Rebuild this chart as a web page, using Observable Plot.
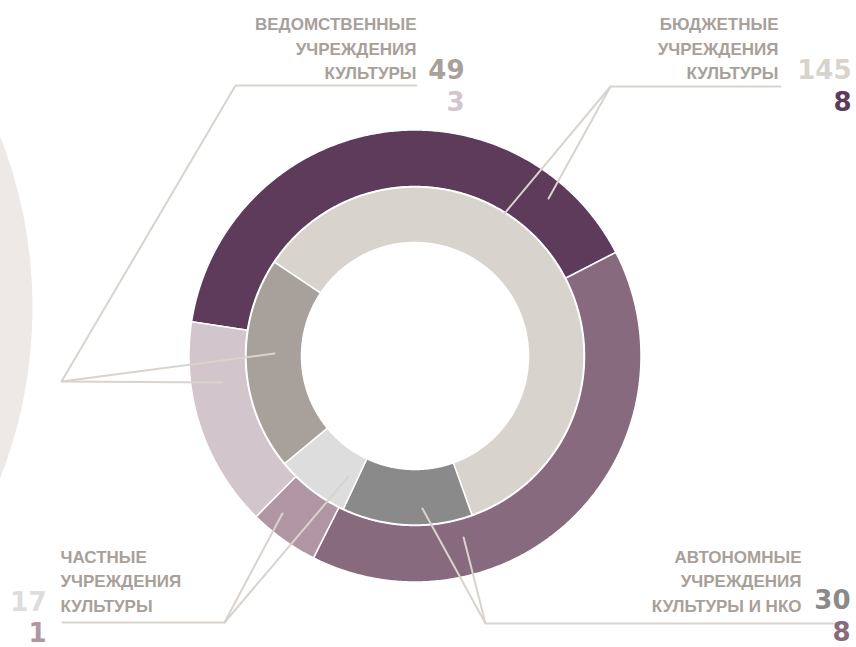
<!DOCTYPE html>
<html>
<head>
<meta charset="utf-8">
<script src="https://cdn.jsdelivr.net/npm/d3@7"></script>
<script src="https://cdn.jsdelivr.net/npm/@observablehq/plot@0.6"></script>
<style>
  html, body { margin: 0; padding: 0; background: #fff; }
  #chart { width: 856px; height: 647px; overflow: hidden; }
</style>
</head>
<body>
<div id="chart"></div>
<script>
// ---------------- DATA ----------------
const categories = ["budget", "autonomous", "private", "departmental"];
const categoryLabels = [
  "БЮДЖЕТНЫЕ\nУЧРЕЖДЕНИЯ\nКУЛЬТУРЫ",
  "АВТОНОМНЫЕ\nУЧРЕЖДЕНИЯ\nКУЛЬТУРЫ И НКО",
  "ЧАСТНЫЕ\nУЧРЕЖДЕНИЯ\nКУЛЬТУРЫ",
  "ВЕДОМСТВЕННЫЕ\nУЧРЕЖДЕНИЯ\nКУЛЬТУРЫ"
];
const innerValues = [145, 30, 17, 49];
const outerValues = [8, 8, 1, 3];

// ---------------- STYLE ----------------
const innerColors = ["#d9d3cd", "#8a8a8a", "#dddddd", "#a8a09a"];
const outerColors = ["#5e3b5b", "#886a7f", "#b096a3", "#d2c5cc"];
const textColor = "#a8a09a";
const leaderColor = "#d9d3cd";

// ---------------- LAYOUT ----------------
const W = 856, H = 647;
const cx = 414.5, cy = 355.5;
const inner = {r0: 113.5, r1: 169, start: -56.3};
const outer = {r0: 169.5, r1: 226, start: -81.3};

// label block layout per category (same order as categories)
const labelLayout = [
  {tx: 778, ty: 46.5, anchor: "end",   nx: 851, ny: [70, 102],
   path: [[780, 86], [610, 86]], fan: [[29.8, 129.7], [40.3, 206.5]]},
  {tx: 801, ty: 579,  anchor: "end",   nx: 850, ny: [600, 632],
   path: [[838, 623], [485, 623]], fan: [[177.2, 152.7], [165, 187.9]]},
  {tx: 60,  ty: 579,  anchor: "start", nx: 46,  ny: [602, 633],
   path: [[62, 622], [224, 622]], fan: [[208.9, 137.6], [220.1, 205.8]]},
  {tx: 416, ty: 46.5, anchor: "end",   nx: 464, ny: [70, 102],
   path: [[416, 85], [235, 85], [61, 381]], fan: [[-89, 140.5], [-97.8, 195.3]]}
];

function polar(deg, r) {
  const t = deg * Math.PI / 180;
  return [cx + r * Math.sin(t), cy - r * Math.cos(t)];
}

function ringPolys(values, colors, ring, name) {
  const total = d3.sum(values);
  const pts = [];
  let a = ring.start;
  values.forEach((v, i) => {
    const a0 = a, a1 = a + v / total * 360;
    a = a1;
    const n = Math.max(4, Math.ceil((a1 - a0) * 2));
    const angs = d3.range(n + 1).map(k => a0 + (a1 - a0) * k / n);
    const key = name + "-" + categories[i];
    const push = (deg, r) => { const [x, y] = polar(deg, r); pts.push({x, y, key, color: colors[i]}); };
    angs.forEach(t => push(t, ring.r1));
    angs.slice().reverse().forEach(t => push(t, ring.r0));
    push(a0, ring.r1);
  });
  return pts;
}

const innerPts = ringPolys(innerValues, innerColors, inner, "inner");
const outerPts = ringPolys(outerValues, outerColors, outer, "outer");

// leader lines
const leaderPts = [];
categories.forEach((c, i) => {
  const L = labelLayout[i];
  const apex = L.path[L.path.length - 1];
  const a1 = polar(...L.fan[0]);
  const a2 = polar(...L.fan[1]);
  [...L.path, a1].forEach(([x, y]) => leaderPts.push({x, y, key: c + "-a"}));
  [apex, a2].forEach(([x, y]) => leaderPts.push({x, y, key: c + "-b"}));
});

const labelData = categories.map((c, i) => ({
  x: labelLayout[i].tx, y: labelLayout[i].ty, text: categoryLabels[i], anchor: labelLayout[i].anchor
}));
const numberData = [];
categories.forEach((c, i) => {
  const L = labelLayout[i];
  numberData.push({x: L.nx, y: L.ny[0], text: String(innerValues[i]), color: innerColors[i]});
  numberData.push({x: L.nx, y: L.ny[1], text: String(outerValues[i]), color: outerColors[i]});
});

const chart = Plot.plot({
  width: W, height: H, margin: 0,
  x: {domain: [0, W], range: [0, W], axis: null},
  y: {domain: [0, H], range: [0, H], axis: null},
  color: {type: "identity"},
  style: {background: "#fff"},
  marks: [
    Plot.dot([{x: -436, y: 307}], {x: "x", y: "y", r: 468, fill: "#ece9e6", stroke: null}),
    Plot.line(outerPts, {x: "x", y: "y", z: "key", fill: "color", stroke: "#fff", strokeWidth: 1.5, curve: "linear"}),
    Plot.line(innerPts, {x: "x", y: "y", z: "key", fill: "color", stroke: "#fff", strokeWidth: 1.5, curve: "linear"}),
    Plot.line(leaderPts, {x: "x", y: "y", z: "key", stroke: leaderColor, strokeWidth: 2, curve: "linear", strokeLinejoin: "miter"}),
    Plot.text(labelData.filter(d => d.anchor === "end"), {x: "x", y: "y", text: "text", textAnchor: "end",
      fontFamily: "Liberation Sans", fontWeight: "bold", fontSize: 17, lineHeight: 24.5 / 17, fill: textColor}),
    Plot.text(labelData.filter(d => d.anchor === "start"), {x: "x", y: "y", text: "text", textAnchor: "start",
      fontFamily: "Liberation Sans", fontWeight: "bold", fontSize: 17, lineHeight: 24.5 / 17, fill: textColor}),
    Plot.text(numberData, {x: "x", y: "y", text: "text", textAnchor: "end", fill: "color",
      fontFamily: "DejaVu Sans", fontWeight: "bold", fontSize: 26})
  ]
});
document.getElementById("chart").appendChild(chart);
</script>
</body>
</html>
